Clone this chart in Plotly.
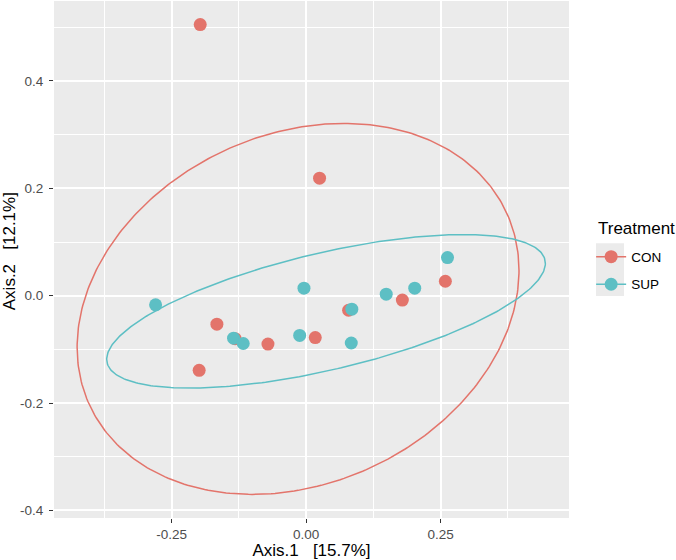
import numpy as np
import plotly.graph_objects as go

# ---- data ----
groups = ["CON", "SUP"]
colors = {"CON": "#E3746B", "SUP": "#5DBFC4"}

con_x = [-0.197, 0.025, -0.166, -0.132, -0.071, -0.199, 0.017, 0.079, 0.179, 0.259]
con_y = [0.505, 0.219, -0.053, -0.080, -0.090, -0.139, -0.078, -0.027, -0.008, 0.027]
sup_x = [-0.280, -0.135, -0.117, -0.004, -0.012, 0.085, 0.084, 0.149, 0.202, 0.263]
sup_y = [-0.017, -0.079, -0.089, 0.014, -0.074, -0.025, -0.088, 0.003, 0.014, 0.071]

# ellipse parameters: centre, half-extent in x / y, phase shift
ell_cx = {"CON": -0.015, "SUP": 0.037}
ell_cy = {"CON": -0.0245, "SUP": -0.029}
ell_hx = {"CON": 0.411, "SUP": 0.408}
ell_hy = {"CON": 0.3455, "SUP": 0.143}
ell_cosd = {"CON": 0.207, "SUP": 0.625}

x_ticks = [-0.25, 0.0, 0.25]
x_ticklabels = ["-0.25", "0.00", "0.25"]
y_ticks = [-0.4, -0.2, 0.0, 0.2, 0.4]
y_ticklabels = ["-0.4", "-0.2", "0.0", "0.2", "0.4"]

pts = {"CON": (con_x, con_y), "SUP": (sup_x, sup_y)}

fig = go.Figure()
t = np.linspace(0, 2 * np.pi, 361)
for g in groups:
    d = np.arccos(ell_cosd[g])
    ex = ell_cx[g] + ell_hx[g] * np.cos(t)
    ey = ell_cy[g] + ell_hy[g] * np.cos(t - d)
    fig.add_trace(go.Scatter(x=ex, y=ey, mode="lines", line=dict(color=colors[g], width=1.5),
                             showlegend=False, hoverinfo="skip"))
for g in groups:
    xs, ys = pts[g]
    fig.add_trace(go.Scatter(x=xs, y=ys, mode="markers", marker=dict(color=colors[g], size=13),
                             showlegend=False, name=g))
for g in groups:
    fig.add_trace(go.Scatter(x=[None], y=[None], mode="lines+markers", name=g, legendgroup=g,
                             marker=dict(color=colors[g], size=13),
                             line=dict(color=colors[g], width=1.5)))

# legend key background
fig.add_shape(type="rect", xref="paper", yref="paper",
              x0=1.0524, x1=1.1068, y0=0.4294, y1=0.5313,
              fillcolor="#EBEBEB", line=dict(width=0), layer="below")

axis_common = dict(showline=False, zeroline=False, ticks="outside", ticklen=4, tickwidth=1,
                   tickcolor="#333333", tickfont=dict(size=13.5, color="#4D4D4D"),
                   gridcolor="white", gridwidth=1.6)

fig.update_layout(
    width=676, height=560,
    margin=dict(l=54, r=107, t=1, b=42),
    plot_bgcolor="#EBEBEB", paper_bgcolor="white",
    font=dict(family="Liberation Sans, Arial, sans-serif", color="black"),
    xaxis=dict(range=[-0.469, 0.489], tickvals=x_ticks, ticktext=x_ticklabels,
               title=dict(text="Axis.1   [15.7%]", font=dict(size=17), standoff=2),
               minor=dict(showgrid=True, gridcolor="white", gridwidth=0.8,
                          tickvals=[-0.375, -0.125, 0.125, 0.375], ticks=""),
               **axis_common),
    yaxis=dict(range=[-0.414, 0.549], tickvals=y_ticks, ticktext=y_ticklabels,
               ticklabelstandoff=3,
               minor=dict(showgrid=True, gridcolor="white", gridwidth=0.8,
                          tickvals=[-0.3, -0.1, 0.1, 0.3, 0.5], ticks=""),
               **axis_common),
    legend=dict(font=dict(size=13.5),
                x=1.043, xanchor="left", y=0.535, yanchor="top",
                bgcolor="rgba(0,0,0,0)", itemwidth=30, tracegroupgap=7),
    annotations=[
        dict(text="Axis.2   [12.1%]", textangle=-90, xref="paper", yref="paper",
             x=-0.0874, y=0.516, xanchor="center", yanchor="middle",
             showarrow=False, font=dict(size=17, color="black")),
        dict(text="Treatment", xref="paper", yref="paper",
             x=(596 - 54) / 515, y=(518 - 228) / 517, xanchor="left", yanchor="middle",
             showarrow=False, font=dict(size=17, color="black")),
    ],
)

fig.write_html("out.html")
